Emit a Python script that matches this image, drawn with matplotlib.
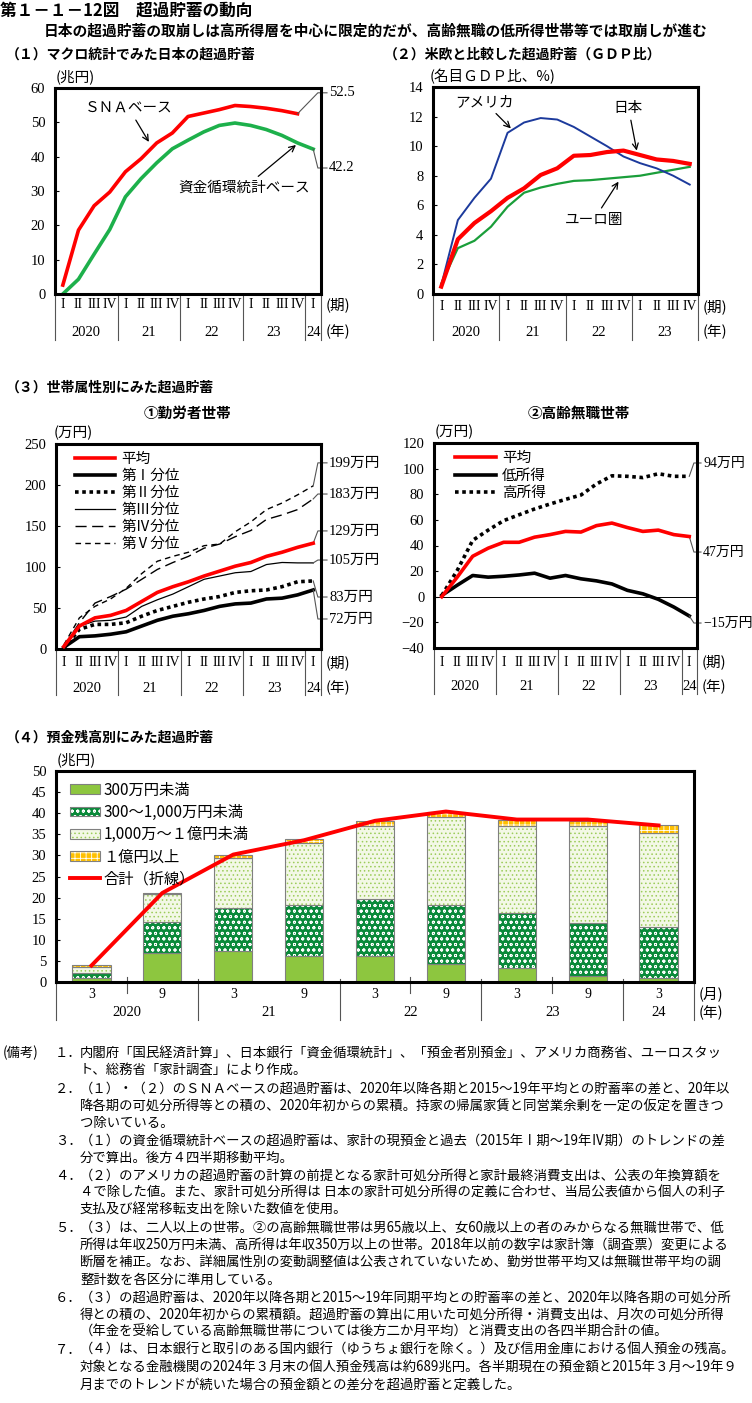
import numpy as np
import matplotlib
matplotlib.use("Agg")
import matplotlib.pyplot as plt
from matplotlib.transforms import blended_transform_factory
from matplotlib.legend_handler import HandlerTuple

plt.rcParams['font.family'] = ['Noto Sans CJK JP', 'DejaVu Sans']
plt.rcParams['hatch.linewidth'] = 0.6
SERIF = ['Liberation Serif', 'Noto Sans CJK JP']

W, H = 752, 1403

# ---------------- data ----------------
# (1) quarters 2020 I .. 2024 I
sna = [2.6, 18.6, 25.7, 29.7, 35.6, 39.4, 44.0, 46.9, 51.7, 52.7, 53.7, 54.9, 54.6, 54.1, 53.4, 52.5]
flow = [0.0, 4.3, 11.6, 18.8, 28.3, 33.6, 38.2, 42.3, 44.8, 47.2, 49.1, 49.8, 49.1, 47.9, 46.2, 44.0, 42.2]

# (2) quarters 2020 I .. 2023 IV
usa = [0.6, 5.0, 6.5, 7.8, 10.9, 11.6, 11.9, 11.8, 11.3, 10.65, 10.0, 9.3, 8.85, 8.5, 8.0, 7.4]
japan = [0.5, 3.7, 4.8, 5.6, 6.5, 7.15, 8.05, 8.5, 9.35, 9.4, 9.6, 9.7, 9.4, 9.1, 9.0, 8.8]
euro = [0.7, 3.1, 3.6, 4.55, 5.9, 6.85, 7.2, 7.45, 7.65, 7.7, 7.8, 7.9, 8.0, 8.2, 8.4, 8.6]

# (3)-1 workers' households
w_avg = [3, 28, 38, 41, 47, 58, 69, 76, 82, 89, 95, 101, 105.5, 113, 118, 124, 129]
w_q1 = [2, 15, 16, 18, 21, 28, 35, 40, 43, 47, 52, 55, 56, 61, 62, 66, 72]
w_q2 = [1, 24, 30, 30, 32, 40, 47, 52, 57, 61, 64, 69, 71, 72, 76, 82, 83]
w_q3 = [1, 28, 34, 35, 39, 52, 60, 67, 76, 85, 89, 93, 94.5, 103, 105.5, 105, 105]
w_q4 = [3, 32, 56, 64, 73, 85, 97, 105.5, 113, 123, 128, 137, 144.5, 158, 163.5, 170, 183]
w_q5 = [5, 38, 52, 61, 74, 92, 107, 113, 118, 126, 128, 143, 155, 170, 178, 188, 199]

# (3)-2 elderly non-working households
e_avg = [0, 15.3, 31.6, 37.9, 42.5, 42.5, 46.5, 48.5, 51, 50.5, 55.5, 57.5, 54, 51, 52, 48.5, 47]
e_low = [1, 9, 16.6, 15.3, 16, 17, 18.4, 14.5, 16.6, 14, 12.4, 10, 5, 2.3, -2, -8, -15]
e_high = [1, 20.5, 44, 52, 59.4, 64, 68.5, 72.4, 76, 79.4, 88, 94.4, 94, 93, 96, 94, 94]

# (4) by deposit balance, half-years 2020/3 .. 2024/3
dep_lt300 = [1.0, 6.95, 7.3, 6.2, 6.2, 4.35, 3.3, 1.4, 0.95]
dep_300_1000 = [1.2, 7.25, 10.3, 12.1, 13.4, 13.85, 13.05, 12.6, 12.05]
dep_1000_1oku = [1.35, 6.6, 11.8, 14.6, 17.3, 20.9, 20.55, 22.9, 22.4]
dep_1oku = [0.4, 0.3, 0.8, 1.1, 1.3, 1.2, 1.4, 1.2, 1.7]
dep_total = [3.9, 21.1, 30.2, 33.6, 38.2, 40.4, 38.5, 38.5, 37.1]
months = ['3', '9', '3', '9', '3', '9', '3', '9', '3']

roman = ['I', 'II', 'III', 'IV']
years17 = [('2020', 4), ('21', 4), ('22', 4), ('23', 4), ('24', 1)]
years16 = [('2020', 4), ('21', 4), ('22', 4), ('23', 4)]
years_half = [('2020', 2), ('21', 2), ('22', 2), ('23', 2), ('24', 1)]

fig = plt.figure(figsize=(W / 100, H / 100), dpi=100)


def box(x0, y0, x1, y1):
    return [x0 / W, 1 - y1 / H, (x1 - x0) / W, (y1 - y0) / H]


def ftext(x, y, s, **kw):
    kw.setdefault('va', 'center')
    fig.text(x / W, 1 - y / H, s, **kw)


def frame(ax, ylim, yticks):
    ax.set_ylim(*ylim)
    ax.set_yticks(yticks)
    for sp in ax.spines.values():
        sp.set_linewidth(2.2)
    ax.tick_params(axis='y', direction='in', length=3, width=0.8, pad=7, labelsize=10.5,
                   labelfontfamily='Liberation Serif')
    ax.tick_params(axis='x', bottom=False, labelbottom=False)


def periods(ax, subs, groups, w, h, units, y_sub=12, y_grp=38, y_end=46, minor=None):
    tr = blended_transform_factory(ax.transData, ax.transAxes)
    pos = -0.5
    edges = [pos]
    k = 0
    for name, n in groups:
        for i in range(n):
            ax.text(pos + 0.5 + i, -y_sub / h, subs[k], transform=tr, ha='center', va='center',
                    family=SERIF, fontsize=10)
            k += 1
        ax.text(pos + n / 2, -y_grp / h, name, transform=tr, ha='center', va='center',
                family=SERIF, fontsize=10.5)
        pos += n
        edges.append(pos)
    top = 3 / h if minor is not None else 0
    for e in edges:
        ax.plot([e, e], [top, -y_end / h], transform=tr, clip_on=False, color='#555555', lw=0.8)
    if minor is not None:
        for m in minor:
            ax.plot([m, m], [5 / h, -11 / h], transform=tr, clip_on=False, color='#555555', lw=0.8)
    ax.text(1 + 5 / w, -y_sub / h, units[0], transform=ax.transAxes, ha='left', va='center', fontsize=10.5)
    ax.text(1 + 5 / w, -y_grp / h, units[1], transform=ax.transAxes, ha='left', va='center', fontsize=10.5)


def leader(ax, x, y, ylab, s, w, gap=8, size=10.5):
    xl, xr = ax.get_xlim()
    span = xr - xl
    xe = xr - 0.2
    ax.plot([x, xe, xr + (gap - 2) / w * span], [y, ylab, ylab], color='#555555', lw=0.8, clip_on=False)
    ax.text(xr + gap / w * span, ylab, s, ha='left', va='center', family=SERIF, fontsize=size)


# ---------------- titles ----------------
ftext(0, 11, '第１－１－12図　超過貯蓄の動向', fontsize=12, weight='bold')
ftext(376, 31, '日本の超過貯蓄の取崩しは高所得層を中心に限定的だが、高齢無職の低所得世帯等では取崩しが進む',
      fontsize=10.6, weight='bold', ha='center')
ftext(6, 55, '（１）マクロ統計でみた日本の超過貯蓄', fontsize=10, weight='bold')
ftext(384, 55, '（２）米欧と比較した超過貯蓄（ＧＤＰ比）', fontsize=10, weight='bold')
ftext(6, 388, '（３）世帯属性別にみた超過貯蓄', fontsize=10, weight='bold')
ftext(188, 413, '①勤労者世帯', fontsize=10.5, weight='bold', ha='center')
ftext(579, 413, '②高齢無職世帯', fontsize=10.5, weight='bold', ha='center')
ftext(6, 738, '（４）預金残高別にみた超過貯蓄', fontsize=10, weight='bold')

ftext(56, 77, '(兆円)', fontsize=10.5)
ftext(430, 77, '(名目ＧＤＰ比、%)', fontsize=10.5)
ftext(54, 433, '(万円)', fontsize=10.5)
ftext(435, 432, '(万円)', fontsize=10.5)
ftext(57, 760, '(兆円)', fontsize=10.5)

# ---------------- (1) ----------------
ax1 = fig.add_axes(box(55, 88, 321, 294))
q17 = np.arange(17)
ax1.plot(q17[:len(sna)], sna, color='#ff0000', lw=2.6)
ax1.plot(q17, flow, color='#1db04b', lw=2.6)
ax1.set_xlim(-0.5, 16.5)
frame(ax1, (0, 60), range(0, 61, 10))
periods(ax1, roman * 5, years17, 266, 206, ['(期)', '(年)'], y_sub=11, y_grp=38, y_end=46)
leader(ax1, len(sna) - 1, sna[-1], 58.6, '52.5', 266)
leader(ax1, 16, flow[-1], 36.7, '42.2', 266)
arrow = dict(arrowstyle='->', color='black', lw=0.9, shrinkA=2, shrinkB=0)
ax1.annotate('ＳＮＡベース', xy=(5.5, 44.3), xytext=(4.2, 54.2), ha='center', va='center',
             fontsize=10.5, arrowprops=arrow)
ax1.annotate('資金循環統計ベース', xy=(14.9, 43.4), xytext=(11.6, 30.9), ha='center', va='center',
             fontsize=10.5, arrowprops=arrow)

# ---------------- (2) ----------------
ax2 = fig.add_axes(box(433, 87, 698, 294))
q16 = np.arange(16)
ax2.plot(q16, euro, color='#1a9e3a', lw=1.6)
ax2.plot(q16, usa, color='#1c3a9c', lw=1.4)
ax2.plot(q16, japan, color='#ff0000', lw=3.0)
ax2.set_xlim(-0.5, 15.5)
frame(ax2, (0, 14), range(0, 15, 2))
periods(ax2, roman * 4, years16, 265, 207, ['(期)', '(年)'], y_sub=13, y_grp=38, y_end=46)
ax2.annotate('アメリカ', xy=(4.2, 11.2), xytext=(2.6, 13.0), ha='center', va='center',
             fontsize=10.5, arrowprops=arrow)
ax2.annotate('日本', xy=(11.8, 9.7), xytext=(11.3, 12.6), ha='center', va='center',
             fontsize=10.5, arrowprops=arrow)
ax2.annotate('ユーロ圏', xy=(10.7, 7.6), xytext=(9.2, 5.0), ha='center', va='center',
             fontsize=10.5, arrowprops=arrow)

# ---------------- (3)-1 ----------------
ax3 = fig.add_axes(box(56, 444, 321, 649))
ax3.plot(q17, w_avg, color='#ff0000', lw=2.6, label='平均', zorder=5)
ax3.plot(q17, w_q1, color='black', lw=2.6, label='第Ⅰ分位')
ax3.plot(q17, w_q2, color='black', lw=2.6, ls=(0, (1, 1)), label='第Ⅱ分位')
ax3.plot(q17, w_q3, color='black', lw=0.9, label='第Ⅲ分位')
ax3.plot(q17, w_q4, color='black', lw=1.0, ls=(0, (8, 4)), label='第Ⅳ分位')
ax3.plot(q17, w_q5, color='black', lw=1.0, ls=(0, (4, 3)), label='第Ⅴ分位')
ax3.set_xlim(-0.5, 16.5)
frame(ax3, (0, 250), range(0, 251, 50))
periods(ax3, roman * 5, years17, 265, 205, ['(期)', '(年)'], y_sub=14, y_grp=39, y_end=46)
for v, lab_y, s in [(w_q5[-1], 227, '199万円'), (w_q4[-1], 189, '183万円'), (w_avg[-1], 144, '129万円'),
                    (w_q3[-1], 108.5, '105万円'), (w_q2[-1], 63.4, '83万円'), (w_q1[-1], 36.6, '72万円')]:
    leader(ax3, 16, v, lab_y, s, 265)
ax3.legend(loc='upper left', bbox_to_anchor=(0.04, 1.0), frameon=False, borderaxespad=0.15,
           handlelength=2.8, handletextpad=0.4, labelspacing=0.2, fontsize=10.5)

# ---------------- (3)-2 ----------------
ax4 = fig.add_axes(box(434, 443, 697, 648))
ax4.axhline(0, color='black', lw=0.7)
ax4.plot(q17, e_avg, color='#ff0000', lw=2.6, label='平均', zorder=5)
ax4.plot(q17, e_low, color='black', lw=2.6, label='低所得')
ax4.plot(q17, e_high, color='black', lw=2.6, ls=(0, (1, 1)), label='高所得')
ax4.set_xlim(-0.5, 16.5)
frame(ax4, (-40, 120), range(-40, 121, 20))
periods(ax4, roman * 5, years17, 263, 205, ['(期)', '(年)'], y_sub=14, y_grp=39, y_end=46)
for v, lab_y, s in [(e_high[-1], 104.4, '94万円'), (e_avg[-1], 34.9, '47万円'), (e_low[-1], -20.5, '−15万円')]:
    leader(ax4, 16, v, lab_y, s, 263, gap=6, size=10)
ax4.legend(loc='upper left', bbox_to_anchor=(0.05, 1.0), frameon=False, borderaxespad=0.15,
           handlelength=2.8, handletextpad=0.4, labelspacing=0.25, fontsize=10.5)

# ---------------- (4) ----------------
ax5 = fig.add_axes(box(56, 771, 694, 982))
xb = np.arange(len(months))
bottom = np.zeros(len(months))
styles = [
    (dep_lt300, '300万円未満', '#8dc63f', None, '#8dc63f'),
    (dep_300_1000, '300～1,000万円未満', '#0a8a3a', 'ooo', 'white'),
    (dep_1000_1oku, '1,000万～１億円未満', '#f3f8e6', '....', '#9ccc5a'),
    (dep_1oku, '１億円以上', '#ffc000', '+++', 'white'),
]
handles = []
for vals, lab, fc, hatch, hc in styles:
    hb = ax5.bar(xb, vals, 0.54, bottom=bottom, color=fc, hatch=hatch, edgecolor=hc, linewidth=0)
    ob = ax5.bar(xb, vals, 0.54, bottom=bottom, fill=False, edgecolor='#808080', linewidth=0.8)
    handles.append((hb, ob))
    bottom += np.array(vals)
ln, = ax5.plot(xb, dep_total, color='#ff0000', lw=2.8, zorder=5)
handles.append(ln)
ax5.set_xlim(-0.5, 8.5)
frame(ax5, (0, 50), range(0, 51, 5))
periods(ax5, months, years_half, 638, 211, ['(月)', '(年)'], y_sub=12, y_grp=31, y_end=38,
        minor=[0.5, 4.5, 6.5])
ax5.legend(handles, [s[1] for s in styles] + ['合計（折線）'],
           handler_map={tuple: HandlerTuple(ndivide=1)},
           loc='upper left', bbox_to_anchor=(0.005, 1.0), frameon=False, borderaxespad=0.3,
           handlelength=2.0, handleheight=0.6, handletextpad=0.2, labelspacing=0.34, fontsize=11)

# ---------------- notes ----------------
notes = [
    (1053, '１．', '内閣府「国民経済計算」、日本銀行「資金循環統計」、「預金者別預金」、アメリカ商務省、ユーロスタッ'),
    (1070, '', 'ト、総務省「家計調査」により作成。'),
    (1089, '２．', '（１）・（２）のＳＮＡベースの超過貯蓄は、2020年以降各期と2015～19年平均との貯蓄率の差と、20年以'),
    (1106, '', '降各期の可処分所得等との積の、2020年初からの累積。持家の帰属家賃と同営業余剰を一定の仮定を置きつ'),
    (1123, '', 'つ除いている。'),
    (1141, '３．', '（１）の資金循環統計ベースの超過貯蓄は、家計の現預金と過去（2015年Ⅰ期～19年Ⅳ期）のトレンドの差'),
    (1158, '', '分で算出。後方４四半期移動平均。'),
    (1176, '４．', '（２）のアメリカの超過貯蓄の計算の前提となる家計可処分所得と家計最終消費支出は、公表の年換算額を'),
    (1193, '', '４で除した値。また、家計可処分所得は 日本の家計可処分所得の定義に合わせ、当局公表値から個人の利子'),
    (1210, '', '支払及び経常移転支出を除いた数値を使用。'),
    (1228, '５．', '（３）は、二人以上の世帯。②の高齢無職世帯は男65歳以上、女60歳以上の者のみからなる無職世帯で、低'),
    (1245, '', '所得は年収250万円未満、高所得は年収350万以上の世帯。2018年以前の数字は家計簿（調査票）変更による'),
    (1262, '', '断層を補正。なお、詳細属性別の変動調整値は公表されていないため、勤労世帯平均又は無職世帯平均の調'),
    (1280, '', '整計数を各区分に準用している。'),
    (1298, '６．', '（３）の超過貯蓄は、2020年以降各期と2015～19年同期平均との貯蓄率の差と、2020年以降各期の可処分所'),
    (1315, '', '得との積の、2020年初からの累積額。超過貯蓄の算出に用いた可処分所得・消費支出は、月次の可処分所得'),
    (1332, '', '（年金を受給している高齢無職世帯については後方二か月平均）と消費支出の各四半期合計の値。'),
    (1350, '７．', '（４）は、日本銀行と取引のある国内銀行（ゆうちょ銀行を除く。）及び信用金庫における個人預金の残高。'),
    (1367, '', '対象となる金融機関の2024年３月末の個人預金残高は約689兆円。各半期現在の預金額と2015年３月～19年９'),
    (1385, '', '月までのトレンドが続いた場合の預金額との差分を超過貯蓄と定義した。'),
]
ftext(3, 1053, '(備考)', fontsize=9.6)
for y, num, line in notes:
    if num:
        ftext(55, y, num, fontsize=9.6)
    ftext(80, y, line, fontsize=9.6)

fig.savefig('out.png', dpi=100, facecolor='white')
